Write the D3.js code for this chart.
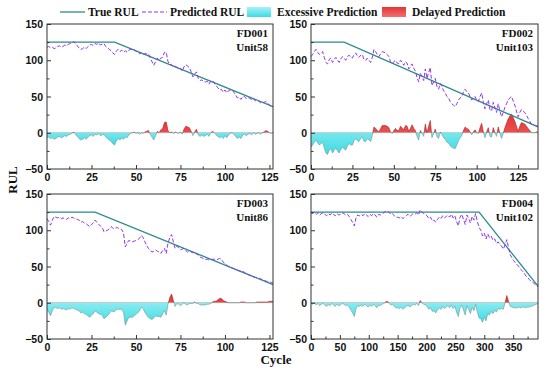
<!DOCTYPE html>
<html>
<head>
<meta charset="utf-8">
<script src="https://cdn.jsdelivr.net/npm/d3@7"></script>
<style>
  body { margin: 0; background: #fff; }
  svg text { font-family: "Liberation Sans", Arial, sans-serif; }
  .serif { font-family: "Liberation Serif", "Times New Roman", serif !important; font-weight: bold; }
</style>
</head>
<body>
<svg id="chart" width="550" height="382"></svg>
<script>
// ---- data ----
const legendLabels = ['True RUL', 'Predicted RUL', 'Excessive Prediction', 'Delayed Prediction'];
const datasetNames = ['FD001', 'FD002', 'FD003', 'FD004'];
const unitNames = ['Unit58', 'Unit103', 'Unit86', 'Unit102'];
const yTicks = [-50, 0, 50, 100, 150];
const xTicksShort = [0, 25, 50, 75, 100, 125];
const xTicksLong = [0, 50, 100, 150, 200, 250, 300, 350];
const xMax = [127, 137, 127, 393];
const cycleStep = [1, 1, 1, 3];

// true RUL as [cycle, RUL] breakpoints
const trueRUL1 = [[0, 125], [38, 125], [127, 36]];
const trueRUL2 = [[0, 125], [20, 125], [137, 8]];
const trueRUL3 = [[0, 125], [27, 125], [127, 25]];
const trueRUL4 = [[0, 125], [291, 125], [393, 23]];

// predicted RUL, one value per cycle (FD004: every 3rd cycle)
const pred1 = [118,119,117,118,116,117,119,120,118,119,
  121,120,122,123,124,126,123,120,117,115,
  116,118,116,119,121,122,120,123,122,124,
  121,122,123,119,117,115,113,110,108,
  113,115,112,114,111,113,111,114,115,115,
  115,112,112,109,110,108,109,109,109,103,
  98,93,98,103,100,103,104,111,111,98,
  94,94,91,92,90,88,89,85,91,94,
  92,90,84,77,81,84,75,72,73,70,
  70,71,67,71,72,69,65,62,59,60,
  56,59,55,58,59,59,56,52,48,49,
  46,50,50,47,48,48,45,47,44,44,
  44,41,42,42,43,41,38,36,36];
const pred2 = [105,108,112,115,111,108,110,112,104,97,
  95,101,103,97,101,104,100,97,102,105,
  103,100,105,107,104,103,108,110,106,104,
  107,108,101,100,103,100,97,104,115,112,
  108,105,109,112,111,110,108,105,98,95,
  98,100,96,95,100,97,93,98,96,88,
  91,95,89,85,76,70,82,77,72,88,
  75,83,90,65,70,75,64,60,68,64,
  58,55,50,48,43,40,38,36,40,45,
  48,50,56,60,57,55,50,45,48,50,
  45,43,50,55,42,33,40,45,32,30,
  42,34,28,40,30,22,28,35,40,45,
  48,50,44,38,30,22,28,32,30,28,
  24,20,16,12,11,10,10,9];
const pred3 = [116,112,107,114,119,118,117,118,116,117,
  116,115,117,116,118,117,116,115,114,111,
  112,110,109,107,105,108,110,114,111,108,
  106,104,98,99,100,102,105,103,102,104,
  103,102,101,96,77,82,86,85,84,85,
  86,87,89,93,90,84,79,75,72,70,
  71,73,71,70,68,72,75,68,82,90,
  94,84,75,78,76,73,74,75,72,70,
  71,70,69,70,67,66,63,62,61,60,
  60,59,59,60,60,59,60,61,60,56,
  54,52,50,49,48,47,46,45,44,44,
  43,42,40,39,38,37,36,35,35,34,
  33,32,31,30,29,29,28,27];
const pred4 = [124,123,125,122,124,121,123,124,122,120,
  123,121,124,122,120,123,121,122,124,123,
  121,122,119,115,111,106,117,121,120,122,
  120,123,121,119,122,120,123,121,118,122,
  121,123,124,126,127,125,122,123,120,118,
  118,117,119,116,118,120,122,119,121,123,
  122,124,121,128,125,123,122,120,116,118,
  113,114,111,115,118,116,120,117,119,121,
  118,122,117,120,112,106,118,122,115,108,
  121,116,110,119,114,123,112,104,100,92,
  96,88,95,90,92,86,88,82,84,80,
  78,74,80,87,76,66,62,58,55,52,
  50,46,44,41,37,35,32,30,28,26,
  24,22];

const trueList = [trueRUL1, trueRUL2, trueRUL3, trueRUL4];
const predList = [pred1, pred2, pred3, pred4];

// ---- styling / layout ----
const colTrue = '#2b8c88';
const colPred = '#9334ea';
const boxes = [
  { x: 47, y: 24, w: 226, h: 145 },
  { x: 311, y: 24, w: 227, h: 145 },
  { x: 47, y: 194, w: 226, h: 145 },
  { x: 311, y: 194, w: 227, h: 145 }
];

const svg = d3.select('#chart');
const defs = svg.append('defs');

const gCyan = defs.append('linearGradient').attr('id', 'gCyan').attr('x1', 0).attr('y1', 0).attr('x2', 0).attr('y2', 1);
gCyan.append('stop').attr('offset', '0%').attr('stop-color', '#a8f2f5');
gCyan.append('stop').attr('offset', '100%').attr('stop-color', '#3ddbe5');
const gRed = defs.append('linearGradient').attr('id', 'gRed').attr('x1', 0).attr('y1', 0).attr('x2', 0).attr('y2', 1);
gRed.append('stop').attr('offset', '0%').attr('stop-color', '#e43434');
gRed.append('stop').attr('offset', '100%').attr('stop-color', '#f07070');

predList.forEach((pred, i) => {
  const b = boxes[i];
  const g = svg.append('g').attr('transform', `translate(${b.x},${b.y})`);

  const x = d3.scaleLinear().domain([0, xMax[i]]).range([0, b.w]);
  const y = d3.scaleLinear().domain([-50, 150]).range([b.h, 0]);
  const tr = trueList[i];
  const trueAt = d3.scaleLinear().domain(tr.map(d => d[0])).range(tr.map(d => d[1])).clamp(true);

  const pts = pred.map((v, k) => {
    const c = k * cycleStep[i];
    return { c: c, p: v, e: v - trueAt(c) };
  });

  // clip regions above / below zero
  defs.append('clipPath').attr('id', 'pos' + i)
    .append('rect').attr('x', 0).attr('y', 0).attr('width', b.w).attr('height', y(0));
  defs.append('clipPath').attr('id', 'neg' + i)
    .append('rect').attr('x', 0).attr('y', y(0)).attr('width', b.w).attr('height', b.h - y(0));

  const area = d3.area().x(d => x(d.c)).y0(y(0)).y1(d => y(d.e));
  const errLine = d3.line().x(d => x(d.c)).y(d => y(d.e));

  g.append('line').attr('x1', 0).attr('x2', b.w).attr('y1', y(0)).attr('y2', y(0))
    .attr('stroke', '#a6e9ec').attr('stroke-width', 1);

  g.append('path').datum(pts).attr('d', area).attr('clip-path', `url(#neg${i})`)
    .attr('fill', 'url(#gCyan)');
  g.append('path').datum(pts).attr('d', area).attr('clip-path', `url(#pos${i})`)
    .attr('fill', 'url(#gRed)');
  g.append('path').datum(pts).attr('d', errLine).attr('clip-path', `url(#neg${i})`)
    .attr('fill', 'none').attr('stroke', '#6f9797').attr('stroke-width', 0.6);
  g.append('path').datum(pts).attr('d', errLine).attr('clip-path', `url(#pos${i})`)
    .attr('fill', 'none').attr('stroke', '#a82222').attr('stroke-width', 0.6);

  // true and predicted RUL
  g.append('path').datum(tr)
    .attr('d', d3.line().x(d => x(d[0])).y(d => y(d[1])))
    .attr('fill', 'none').attr('stroke', colTrue).attr('stroke-width', 1.3);
  g.append('path').datum(pts)
    .attr('d', d3.line().x(d => x(d.c)).y(d => y(d.p)))
    .attr('fill', 'none').attr('stroke', colPred).attr('stroke-width', 1)
    .attr('stroke-dasharray', '4,2');

  // axes (ticks point inward)
  const xt = i === 3 ? xTicksLong : xTicksShort;
  const xStep = xt[1] - xt[0];
  const xMinor = d3.range(xStep / 2, xMax[i], xStep);
  const yMinor = [-25, 25, 75, 125];

  g.append('g').attr('transform', `translate(0,${b.h})`)
    .call(d3.axisBottom(x).tickValues(xt).tickSizeInner(-4).tickSizeOuter(0).tickPadding(5));
  g.append('g').attr('transform', `translate(0,${b.h})`)
    .call(d3.axisBottom(x).tickValues(xMinor).tickSizeInner(-2.5).tickSizeOuter(0).tickFormat(''));
  const yAxis = g.append('g')
    .call(d3.axisLeft(y).tickValues(yTicks).tickSizeInner(-4).tickSizeOuter(0).tickPadding(4));
  g.append('g')
    .call(d3.axisLeft(y).tickValues(yMinor).tickSizeInner(-2.5).tickSizeOuter(0).tickFormat(''));

  g.selectAll('.domain').remove();
  g.selectAll('.tick line').attr('stroke', '#333');
  g.selectAll('.tick text').attr('font-size', 10.5).attr('font-weight', 'bold').attr('fill', '#111')
    .style('font-family', '"Liberation Sans", Arial, sans-serif');
  yAxis.selectAll('.tick text').attr('dy', '0.35em');

  g.append('rect').attr('width', b.w).attr('height', b.h)
    .attr('fill', 'none').attr('stroke', '#333').attr('stroke-width', 1);

  g.append('text').attr('class', 'serif').attr('x', b.w - 5).attr('y', 13)
    .attr('text-anchor', 'end').attr('font-size', 11).attr('fill', '#111').text(datasetNames[i]);
  g.append('text').attr('class', 'serif').attr('x', b.w - 5).attr('y', 26.5)
    .attr('text-anchor', 'end').attr('font-size', 11).attr('fill', '#111').text(unitNames[i]);
});

// axis titles
svg.append('text').attr('class', 'serif').attr('font-size', 13).attr('fill', '#111')
  .attr('text-anchor', 'middle').attr('transform', 'translate(17,180) rotate(-90)').text('RUL');
svg.append('text').attr('class', 'serif').attr('font-size', 13).attr('fill', '#111')
  .attr('text-anchor', 'middle').attr('x', 276).attr('y', 364).text('Cycle');

// legend
const legendX = [60, 142, 247, 382];
const lg = svg.append('g').attr('transform', 'translate(0,12)');
lg.append('line').attr('x1', legendX[0]).attr('x2', legendX[0] + 25).attr('y1', 0).attr('y2', 0)
  .attr('stroke', colTrue).attr('stroke-width', 1.3);
lg.append('line').attr('x1', legendX[1]).attr('x2', legendX[1] + 25).attr('y1', 0).attr('y2', 0)
  .attr('stroke', colPred).attr('stroke-width', 1).attr('stroke-dasharray', '4,2');
lg.append('rect').attr('x', legendX[2]).attr('y', -5).attr('width', 24).attr('height', 10)
  .attr('fill', 'url(#gCyan)');
lg.append('rect').attr('x', legendX[3]).attr('y', -5).attr('width', 24).attr('height', 10)
  .attr('fill', 'url(#gRed)');
legendLabels.forEach((t, k) => {
  const off = k < 2 ? 28 : 30;
  lg.append('text').attr('class', 'serif').attr('x', legendX[k] + off).attr('y', 0)
    .attr('dy', '0.35em').attr('font-size', 11.5).attr('fill', '#111').text(t);
});
</script>
</body>
</html>
